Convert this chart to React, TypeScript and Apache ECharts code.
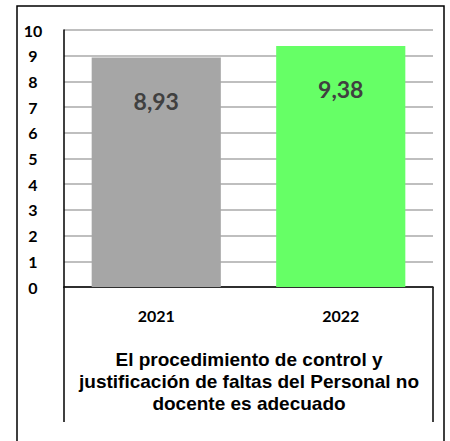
import React, { useEffect, useRef } from "react";
import * as echarts from "echarts";

const categories = ["2021", "2022"];
const values = [8.93, 9.38];
const barColors = ["#A6A6A6", "#66FF66"];
const yTicks = [0, 10, 1];
const caption = "El procedimiento de control y\njustificación de faltas del Personal no\ndocente es adecuado";

const FONT = "Lato, 'Open Sans', sans-serif";
const CAPTION_FONT = "'Liberation Sans', Arial, sans-serif";

export default function App() {
  const ref = useRef<HTMLDivElement>(null);
  useEffect(() => {
    if (!ref.current) return;
    const chart = echarts.init(ref.current, null, { renderer: "svg" });
    chart.setOption({
      animation: false,
      backgroundColor: "#ffffff",
      grid: { left: 64, right: 17, top: 30, bottom: 154, containLabel: false },
      xAxis: {
        type: "category",
        data: categories,
        axisLine: { show: true, lineStyle: { color: "#000000", width: 1.5 } },
        axisTick: { show: false },
        axisLabel: { margin: 20, fontFamily: FONT, fontWeight: "bold", fontSize: 16, color: "#000000" },
      },
      yAxis: {
        type: "value",
        min: yTicks[0],
        max: yTicks[1],
        interval: yTicks[2],
        axisLine: { show: true, lineStyle: { color: "#000000", width: 1.5 } },
        axisTick: { show: false },
        splitLine: { show: true, lineStyle: { color: "#AAAAAA", width: 1.5 } },
        axisLabel: { margin: 31, align: "center", fontFamily: FONT, fontWeight: "bold", fontSize: 16, color: "#000000" },
      },
      series: [
        {
          type: "bar",
          barWidth: "70%",
          data: values.map((v, i) => ({ value: v, itemStyle: { color: barColors[i] } })),
          label: {
            show: true,
            position: "insideTop",
            distance: 32,
            fontFamily: FONT,
            fontWeight: "bold",
            fontSize: 23,
            color: "#404040",
            formatter: (p: any) => String(p.value.toFixed(2)).replace(".", ","),
          },
        },
      ],
      graphic: [
        {
          type: "rect",
          shape: { x: 17, y: 6, width: 427, height: 450 },
          style: { fill: "none", stroke: "#000000", lineWidth: 1.5 },
          silent: true,
        },
        {
          type: "line",
          shape: { x1: 64, y1: 287, x2: 64, y2: 422 },
          style: { stroke: "#000000", lineWidth: 1.5 },
        },
        {
          type: "line",
          shape: { x1: 433, y1: 287, x2: 433, y2: 422 },
          style: { stroke: "#000000", lineWidth: 1.5 },
        },
        {
          type: "text",
          x: 249,
          y: 348,
          style: {
            text: caption,
            align: "center",
            verticalAlign: "top",
            font: `bold 19px ${CAPTION_FONT}`,
            lineHeight: 22,
            fill: "#000000",
          },
        },
      ],
    });
    return () => chart.dispose();
  }, []);
  return <div ref={ref} style={{ width: 450, height: 441, position: "absolute", left: 0, top: 0 }} />;
}
